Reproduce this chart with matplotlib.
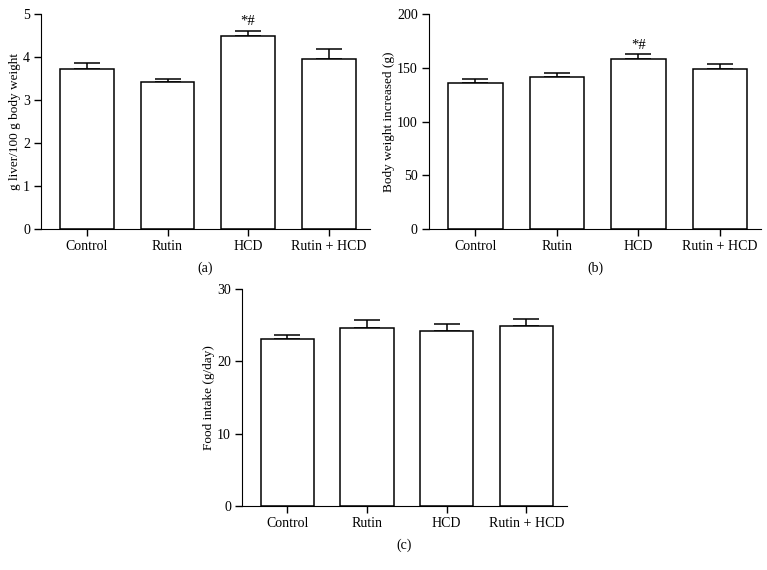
import matplotlib
matplotlib.use('Agg')
import matplotlib.pyplot as plt
import numpy as np

plt.rcParams['font.family'] = ['Liberation Serif', 'DejaVu Serif']
plt.rcParams['font.size'] = 10

# data
groups = ['Control', 'Rutin', 'HCD', 'Rutin + HCD']
liver = [3.73, 3.42, 4.49, 3.96]
liver_err = [0.12, 0.07, 0.12, 0.22]
bw = [136.3, 141.6, 158.4, 148.8]
bw_err = [3.7, 3.4, 4.0, 4.3]
food = [23.05, 24.65, 24.25, 24.85]
food_err = [0.55, 1.05, 0.85, 1.05]

panels = [
    ([0.0535, 0.598, 0.4285, 0.3774], liver, liver_err, 'g liver/100 g body weight', (0, 5), [0, 1, 2, 3, 4, 5], '(a)', 2),
    ([0.5593, 0.598, 0.4335, 0.3774], bw, bw_err, 'Body weight increased (g)', (0, 200), [0, 50, 100, 150, 200], '(b)', 2),
    ([0.3155, 0.1123, 0.4237, 0.3807], food, food_err, 'Food intake (g/day)', (0, 30), [0, 10, 20, 30], '(c)', None),
]

fig = plt.figure(figsize=(7.67, 5.70), dpi=100)
for rect, vals, errs, ylab, ylim, yticks, tag, star in panels:
    ax = fig.add_axes(rect)
    x = np.arange(len(groups))
    ax.bar(x, vals, width=0.67, color='white', edgecolor='black', linewidth=1.1, zorder=2)
    ax.errorbar(x, vals, yerr=[np.zeros(len(vals)), errs], fmt='none', ecolor='black',
                elinewidth=1.1, capsize=9.5, capthick=1.1, zorder=1)
    if star is not None:
        ax.text(x[star], vals[star] + errs[star] + (ylim[1] - ylim[0]) * 0.012, '*#',
                ha='center', va='bottom', fontsize=10.5)
    ax.set_xlim(-0.57, 3.51)
    ax.set_ylim(*ylim)
    ax.set_yticks(yticks)
    ax.set_xticks(x)
    ax.set_xticklabels(groups)
    ax.set_ylabel(ylab, labelpad=1.5, fontsize=9.5)
    ax.spines['top'].set_visible(False)
    ax.spines['right'].set_visible(False)
    ax.tick_params(direction='out', length=5, width=1, pad=3)
    ax.set_xlabel(tag, labelpad=6)

fig.savefig('out.png', dpi=100)
